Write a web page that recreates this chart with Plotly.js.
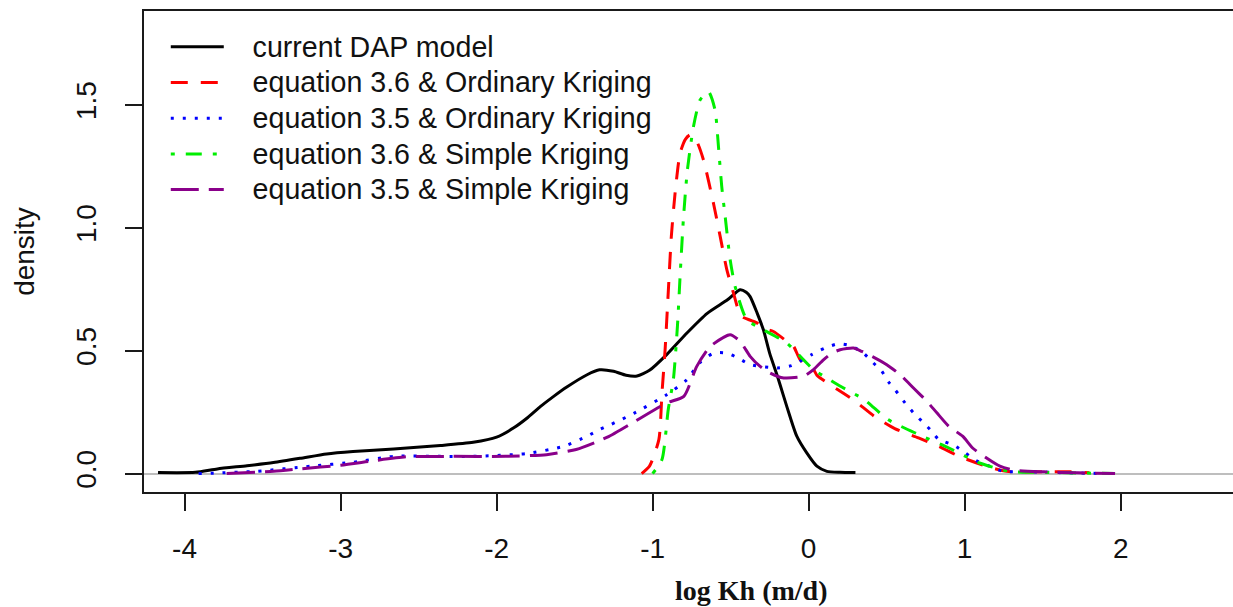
<!DOCTYPE html>
<html>
<head>
<meta charset="utf-8">
<script src="https://cdn.plot.ly/plotly-3.0.1.min.js"></script>
<style>
  html, body { margin: 0; padding: 0; background: #ffffff; overflow: hidden; }
  #chart { width: 1233px; height: 607px; }
</style>
</head>
<body>
<div id="chart"></div>
<script>
// ---- data ----
const seriesNames = [
  "current DAP model",
  "equation 3.6 & Ordinary Kriging",
  "equation 3.5 & Ordinary Kriging",
  "equation 3.6 & Simple Kriging",
  "equation 3.5 & Simple Kriging"
];

const dapX = [-4.17,-3.93,-3.79,-3.60,-3.43,-3.26,-3.09,-2.92,-2.66,-2.36,-2.15,-2.00,-1.89,-1.80,-1.72,-1.63,-1.55,-1.42,-1.34,-1.25,-1.17,-1.10,-1.02,-0.91,-0.78,-0.65,-0.52,-0.44,-0.40,-0.375,-0.33,-0.29,-0.25,-0.20,-0.16,-0.12,-0.076,-0.012,0.053,0.117,0.20,0.30];
const dapY = [0.004,0.005,0.019,0.032,0.045,0.062,0.080,0.090,0.100,0.114,0.127,0.148,0.186,0.228,0.272,0.316,0.352,0.402,0.422,0.416,0.400,0.397,0.420,0.484,0.572,0.652,0.707,0.748,0.738,0.720,0.653,0.585,0.490,0.396,0.314,0.233,0.152,0.084,0.030,0.009,0.005,0.004];

const e36okX = [-1.07,-1.02,-0.96,-0.94,-0.92,-0.90,-0.88,-0.856,-0.824,-0.79,-0.76,-0.717,-0.674,-0.61,-0.567,-0.524,-0.482,-0.439,-0.418,-0.332,-0.29,-0.226,-0.14,-0.097,-0.054,0.031,0.053,0.074,0.183,0.291,0.421,0.552,0.704,0.834,0.965,1.138,1.269,1.50,1.68,1.80];
const e36okY = [0.000,0.030,0.138,0.328,0.504,0.735,0.965,1.141,1.304,1.360,1.378,1.351,1.276,1.100,0.965,0.829,0.735,0.645,0.635,0.613,0.590,0.578,0.538,0.518,0.463,0.423,0.400,0.389,0.343,0.298,0.233,0.183,0.145,0.111,0.070,0.030,0.009,0.007,0.007,0.003];

const e35okX = [-3.91,-3.80,-3.54,-3.19,-2.92,-2.66,-2.36,-2.15,-1.81,-1.57,-1.42,-1.34,-1.27,-1.12,-0.91,-0.78,-0.70,-0.61,-0.524,-0.44,-0.375,-0.20,-0.11,0.02,0.106,0.19,0.27,0.351,0.415,0.469,0.51,0.554,0.619,0.672,0.726,0.779,0.832,0.932,1.004,1.073,1.16,1.247,1.42,1.60,1.90];
const e35okY = [0.000,0.002,0.009,0.030,0.046,0.070,0.070,0.070,0.081,0.111,0.152,0.179,0.199,0.245,0.321,0.382,0.450,0.490,0.490,0.466,0.443,0.430,0.439,0.484,0.511,0.528,0.520,0.490,0.450,0.416,0.375,0.341,0.287,0.247,0.213,0.179,0.140,0.115,0.084,0.053,0.030,0.009,0.007,0.004,0.000];

const e36skX = [-1.00,-0.94,-0.90,-0.867,-0.841,-0.824,-0.803,-0.777,-0.738,-0.696,-0.642,-0.60,-0.578,-0.557,-0.535,-0.503,-0.471,-0.396,-0.29,-0.14,0.031,0.117,0.204,0.356,0.508,0.704,0.899,1.095,1.291,1.60,1.964];
const e36skY = [0.000,0.057,0.260,0.382,0.599,0.802,1.033,1.236,1.412,1.520,1.554,1.480,1.330,1.168,1.046,0.870,0.761,0.626,0.585,0.531,0.423,0.389,0.355,0.301,0.220,0.159,0.104,0.043,0.009,0.004,0.000];

const e35skX = [-3.73,-3.43,-3.26,-3.00,-2.79,-2.58,-2.30,-1.94,-1.68,-1.49,-1.29,-1.12,-0.91,-0.80,-0.717,-0.631,-0.503,-0.439,-0.375,-0.311,-0.247,-0.16,-0.032,0.031,0.095,0.149,0.202,0.287,0.341,0.415,0.501,0.587,0.672,0.758,0.822,0.899,0.987,1.051,1.138,1.226,1.312,1.508,1.725,1.964];
const e35skY = [0.000,0.009,0.019,0.034,0.052,0.068,0.070,0.070,0.077,0.098,0.148,0.210,0.287,0.314,0.436,0.517,0.565,0.538,0.477,0.436,0.409,0.389,0.396,0.423,0.463,0.490,0.504,0.511,0.497,0.474,0.443,0.402,0.348,0.294,0.247,0.192,0.152,0.104,0.064,0.030,0.014,0.007,0.003,0.000];

const xTickVals = [-4, -3, -2, -1, 0, 1, 2];
const xTickText = ["-4", "-3", "-2", "-1", "0", "1", "2"];
const yTickVals = [0, 0.5, 1.0, 1.5];
const yTickText = ["0.0", "0.5", "1.0", "1.5"];
const xTitle = "log Kh (m/d)";
const yTitle = "density";

// ---- styles ----
const pad = "\u00a0\u00a0\u00a0";
const styles = [
  {color: "#000000", dash: "solid"},
  {color: "#ff0000", dash: "17px,13px"},
  {color: "#0000ff", dash: "3px,9px"},
  {color: "#00ee00", dash: "4px,11px,16px,11px"},
  {color: "#8a008a", dash: "28px,10px"}
];
const xs = [dapX, e36okX, e35okX, e36skX, e35skX];
const ys = [dapY, e36okY, e35okY, e36skY, e35skY];

const traces = xs.map((x, i) => ({
  type: "scatter",
  mode: "lines",
  x: x,
  y: ys[i],
  name: '<span style="font-size:28.6px">' + pad + seriesNames[i] + '</span>',
  line: {color: styles[i].color, dash: styles[i].dash, width: 3, shape: "spline", smoothing: 0.6},
  hoverinfo: "skip"
}));

const axisColor = "#1a1a1a";
const tickFont = {family: "Liberation Sans, Arial, sans-serif", size: 28, color: "#111111"};

const layout = {
  width: 1233,
  height: 607,
  margin: {l: 144, r: 0, t: 11, b: 115, pad: 0},
  paper_bgcolor: "#ffffff",
  plot_bgcolor: "#ffffff",
  showlegend: true,
  legend: {
    x: 0.02, y: 0.973, xanchor: "left", yanchor: "top",
    bgcolor: "rgba(0,0,0,0)", borderwidth: 0,
    font: {family: "Liberation Sans, Arial, sans-serif", size: 25.15, color: "#111111"},
    itemwidth: 53,
    tracegroupgap: 0
  },
  xaxis: {
    range: [-4.26, 2.72],
    tickmode: "array", tickvals: xTickVals, ticktext: xTickText,
    ticks: "outside", ticklen: 17, tickwidth: 2, tickcolor: axisColor,
    showline: true, linecolor: axisColor, linewidth: 2, mirror: true,
    showgrid: false, zeroline: false,
    tickfont: tickFont,
    ticklabelstandoff: 13
  },
  yaxis: {
    range: [-0.075, 1.882],
    tickmode: "array", tickvals: yTickVals, ticktext: yTickText,
    tickangle: -90,
    ticks: "outside", ticklen: 17, tickwidth: 2, tickcolor: axisColor,
    showline: true, linecolor: axisColor, linewidth: 2, mirror: false,
    showgrid: false,
    zeroline: true, zerolinecolor: "#bebebe", zerolinewidth: 2,
    tickfont: tickFont,
    ticklabelstandoff: 18,
    title: {text: yTitle, font: {family: "Liberation Sans, Arial, sans-serif", size: 28, color: "#111111"}, standoff: 28}
  },
  annotations: [{
    text: "<b>" + xTitle + "</b>",
    xref: "paper", yref: "paper",
    x: 0.5574, y: -0.205, xanchor: "center", yanchor: "middle",
    showarrow: false,
    font: {family: "Liberation Serif, Times New Roman, serif", size: 28, color: "#111111"}
  }]
};

Plotly.newPlot("chart", traces, layout, {staticPlot: true, displayModeBar: false});
</script>
</body>
</html>
